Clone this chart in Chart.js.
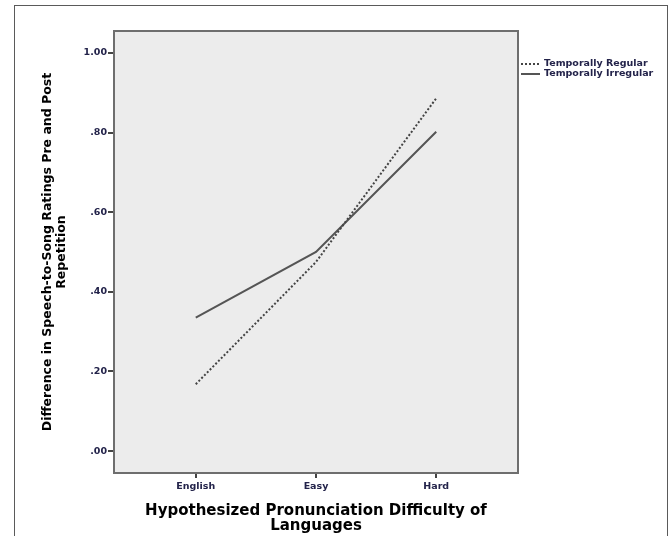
<!DOCTYPE html>
<html>
<head>
<meta charset="utf-8">
<script src="https://cdn.jsdelivr.net/npm/chart.js@4"></script>
<style>
  html, body { margin: 0; padding: 0; background: #fff; }
  #wrap { position: relative; width: 669px; height: 536px; }
</style>
</head>
<body>
<div id="wrap"><canvas id="chart" width="669" height="536"></canvas></div>
<script>
// ---- data ----
const categories = ['English', 'Easy', 'Hard'];
const regularValues = [0.168, 0.475, 0.886];
const irregularValues = [0.335, 0.500, 0.802];
const yTickValues = [0, 0.2, 0.4, 0.6, 0.8, 1.0];

const tickColor = '#23234a';

function toPoints(values) {
  return values.map(function(v, i) { return { x: i, y: v }; });
}

function fmtTick(v) {
  const s = v.toFixed(2);
  return s.charAt(0) === '0' ? s.substring(1) : s;
}

// gray plot box + outer frame
const framePlugin = {
  id: 'frame',
  beforeDraw: function(chart) {
    const ctx = chart.ctx;
    const a = chart.chartArea;
    ctx.save();
    ctx.fillStyle = '#ececec';
    ctx.fillRect(a.left, a.top, a.right - a.left, a.bottom - a.top);
    ctx.strokeStyle = '#5a5a5a';
    ctx.lineWidth = 1;
    ctx.strokeRect(14.5, 5.5, 653, 560);
    ctx.restore();
  },
  afterDatasetsDraw: function(chart) {
    const ctx = chart.ctx;
    const a = chart.chartArea;
    ctx.save();
    ctx.strokeStyle = '#6e6e6e';
    ctx.lineWidth = 2;
    ctx.strokeRect(a.left, a.top, a.right - a.left, a.bottom - a.top);
    ctx.restore();
  }
};

// legend sitting right of the plot box
const sideLegend = {
  id: 'sideLegend',
  afterDraw: function(chart) {
    const ctx = chart.ctx;
    const x0 = chart.chartArea.right + 3;
    let y = 64;
    ctx.save();
    ctx.font = 'bold 9.5px "DejaVu Sans"';
    ctx.textBaseline = 'middle';
    chart.data.datasets.forEach(function(ds) {
      ctx.strokeStyle = ds.borderColor;
      ctx.lineWidth = 2;
      ctx.setLineDash(ds.borderDash || []);
      ctx.beginPath();
      ctx.moveTo(x0, y);
      ctx.lineTo(x0 + 19, y);
      ctx.stroke();
      ctx.setLineDash([]);
      ctx.fillStyle = tickColor;
      ctx.fillText(ds.label, x0 + 23, y);
      y += 10;
    });
    ctx.restore();
  }
};

new Chart(document.getElementById('chart'), {
  type: 'line',
  data: {
    datasets: [
      {
        label: 'Temporally Regular',
        data: toPoints(regularValues),
        borderColor: '#444444',
        borderWidth: 2,
        borderDash: [2, 2],
        pointRadius: 0,
        tension: 0
      },
      {
        label: 'Temporally Irregular',
        data: toPoints(irregularValues),
        borderColor: '#555555',
        borderWidth: 2,
        pointRadius: 0,
        tension: 0
      }
    ]
  },
  options: {
    responsive: false,
    animation: false,
    layout: { padding: { top: 31, right: 151, left: 0, bottom: 0 } },
    plugins: {
      legend: { display: false },
      tooltip: { enabled: false }
    },
    scales: {
      x: {
        type: 'linear',
        min: -0.68,
        max: 2.68,
        afterBuildTicks: function(scale) {
          scale.ticks = categories.map(function(c, i) { return { value: i }; });
        },
        afterFit: function(scale) { scale.height = 63; },
        ticks: {
          color: tickColor,
          font: { family: '"DejaVu Sans"', size: 9.5, weight: 'bold' },
          padding: 3,
          maxRotation: 0,
          callback: function(v) { return categories[v]; }
        },
        grid: { drawOnChartArea: false, drawTicks: true, tickLength: 5, color: '#444', lineWidth: 2 },
        border: { display: false },
        title: {
          display: true,
          text: ['Hypothesized Pronunciation Difficulty of', 'Languages'],
          color: '#000',
          font: { family: '"DejaVu Sans"', size: 15, weight: 'bold', lineHeight: 15 / 15 },
          padding: { top: 0, bottom: 2 }
        }
      },
      y: {
        min: -0.055,
        max: 1.055,
        afterBuildTicks: function(scale) {
          scale.ticks = yTickValues.map(function(v) { return { value: v }; });
        },
        afterFit: function(scale) { scale.width = 114; },
        ticks: {
          color: tickColor,
          font: { family: '"DejaVu Sans"', size: 9.5, weight: 'bold' },
          padding: 1,
          callback: function(v) { return fmtTick(v); }
        },
        grid: { drawOnChartArea: false, drawTicks: true, tickLength: 6, color: '#444', lineWidth: 2 },
        border: { display: false },
        title: {
          display: true,
          text: ['Difference in Speech-to-Song Ratings Pre and Post', 'Repetition'],
          color: '#000',
          font: { family: '"DejaVu Sans"', size: 12.5, weight: 'bold', lineHeight: 14 / 12.5 },
          padding: { top: 41, bottom: 0 }
        }
      }
    }
  },
  plugins: [framePlugin, sideLegend]
});
</script>
</body>
</html>
